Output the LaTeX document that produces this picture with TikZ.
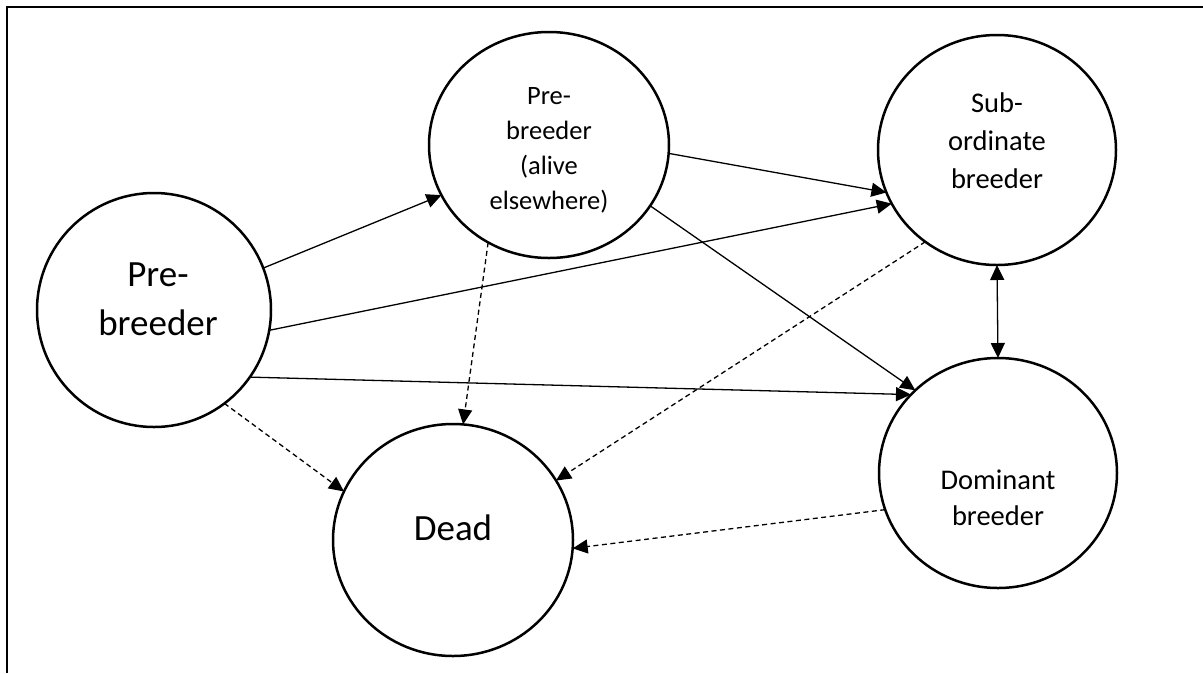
\documentclass[tikz,border=0pt]{standalone}
\usepackage{fontspec}
\setmainfont{Carlito}
\usetikzlibrary{shapes.geometric,arrows.meta}
\tikzset{
  state/.style={draw, shape=ellipse, inner sep=0pt, outer sep=0pt, line width=2.5pt},
  lbl/.style={align=center, inner sep=0pt},
  conn/.style={line width=1.3pt, -{Triangle[length=15pt,width=14pt]}},
  dconn/.style={conn, dash pattern=on 5pt off 3.5pt},
  frame/.style={line width=2.5pt}
}
\begin{document}
\begin{tikzpicture}[x=1pt,y=-1pt]
\useasboundingbox (0,0) rectangle (1203,673);
\coordinate (fa) at (1203,7);
\coordinate (fb) at (7,7);
\coordinate (fc) at (7,673);
\draw[frame] (fa) -- (fb) -- (fc);
% states
\node[state, minimum width=234pt, minimum height=234pt] (pb) at (154,310) {};
\node[state, minimum width=240pt, minimum height=226pt] (pa) at (549,145) {};
\node[state, minimum width=238pt, minimum height=230pt] (sb) at (997,150) {};
\node[state, minimum width=238pt, minimum height=230pt] (db) at (998,473) {};
\node[state, minimum width=240pt, minimum height=232pt] (dd) at (453,540) {};
% labels
\node[lbl, font=\fontsize{37}{49}\selectfont] (pbt) at (158,299) {Pre-\\breeder};
\node[lbl, font=\fontsize{26.5}{35}\selectfont] (pat) at (549,150) {Pre-\\breeder\\(alive\\elsewhere)};
\node[lbl, font=\fontsize{28.5}{38}\selectfont] (sbt) at (997,141) {Sub-\\ordinate\\breeder};
\node[lbl, font=\fontsize{28.5}{36}\selectfont] (dbt) at (998,498) {Dominant\\breeder};
\node[lbl, font=\fontsize{37}{49}\selectfont] (ddt) at (453,528) {Dead};
% connectors
\draw[conn] (pb.21) -- (pa.205.3);
\draw[conn] (pb.-10.8) -- (sb.207.8);
\draw[conn] (pa.-4.3) -- (sb.201.4);
\draw[conn] (pa.-31.8) -- (db.135);
\draw[conn] (pb.-35.6) -- (db.138.4);
\draw[conn, {Triangle[length=15pt,width=14pt]}-{Triangle[length=15pt,width=14pt]}] (sb.south) -- (db.north);
\draw[dconn] (pa.238.5) -- (dd.85);
\draw[dconn] (sb.232.6) -- (dd.30.1);
\draw[dconn] (pb.-53.9) -- (dd.156.9);
\draw[dconn] (db.198.3) -- (dd.-4.3);
\end{tikzpicture}
\end{document}
